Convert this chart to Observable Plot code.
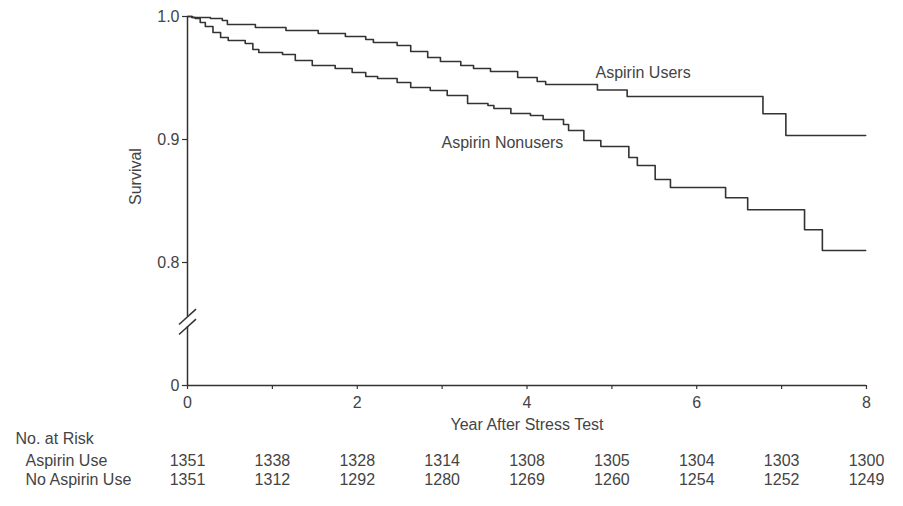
<!DOCTYPE html>
<html>
<head>
<meta charset="utf-8">
<script src="https://cdn.jsdelivr.net/npm/d3@7"></script>
<script src="https://cdn.jsdelivr.net/npm/@observablehq/plot@0.6"></script>
<style>
  html, body { margin: 0; padding: 0; background: #fff; }
  #chart svg { display: block; }
</style>
</head>
<body>
<div id="chart"></div>
<script>
// ---- data ----
const usersTime = [0, 0.06, 0.27, 0.41, 0.47, 0.80, 1.16, 1.54, 1.86, 2.10, 2.19, 2.47, 2.63, 2.83, 2.98, 3.22, 3.37, 3.57, 3.89, 4.12, 4.22, 4.83, 5.18, 6.78, 7.05, 7.99];
const usersSurv = [1.0, 0.9992, 0.9984, 0.9967, 0.9935, 0.9911, 0.9886, 0.9862, 0.9837, 0.9813, 0.9789, 0.9764, 0.9715, 0.9667, 0.9634, 0.9602, 0.9577, 0.9553, 0.9504, 0.9472, 0.9447, 0.9402, 0.9350, 0.9209, 0.9033, 0.9033];

const nonTime = [0, 0.05, 0.09, 0.15, 0.21, 0.30, 0.39, 0.48, 0.68, 0.77, 0.84, 1.12, 1.27, 1.47, 1.74, 1.94, 2.10, 2.24, 2.47, 2.63, 2.86, 3.06, 3.30, 3.54, 3.61, 3.81, 4.04, 4.19, 4.43, 4.49, 4.67, 4.87, 5.20, 5.30, 5.51, 5.69, 6.34, 6.60, 7.27, 7.48, 7.99];
const nonSurv = [1.0, 0.9992, 0.9984, 0.9951, 0.9919, 0.9870, 0.9829, 0.9805, 0.9780, 0.9732, 0.9707, 0.9691, 0.9642, 0.9602, 0.9577, 0.9545, 0.9512, 0.9496, 0.9463, 0.9423, 0.9398, 0.9358, 0.9293, 0.9276, 0.9252, 0.9211, 0.9195, 0.9163, 0.9122, 0.9073, 0.8992, 0.8943, 0.8854, 0.8789, 0.8675, 0.8610, 0.8526, 0.8429, 0.8266, 0.8098, 0.8098];

const riskYears = [0, 1, 2, 3, 4, 5, 6, 7, 8];
const riskAspirin = [1351, 1338, 1328, 1314, 1308, 1305, 1304, 1303, 1300];
const riskNoAspirin = [1351, 1312, 1292, 1280, 1269, 1260, 1254, 1252, 1249];

const xTicks = [0, 1, 2, 3, 4, 5, 6, 7, 8];
const yTicksUpper = [0.8, 0.9, 1.0];
const yTickZero = [0];
const yBreak = [0.382, 0.447];   // survival values where the axis break slashes sit
const seriesLabels = ["Aspirin Users", "Aspirin Nonusers"];
const rowLabels = ["No. at Risk", "Aspirin Use", "No Aspirin Use"];

// ---- build tables ----
const users = usersTime.map((t, i) => ({t, s: usersSurv[i]}));
const nonusers = nonTime.map((t, i) => ({t, s: nonSurv[i]}));
const risk = riskYears.map((y, i) => ({y, a: riskAspirin[i], n: riskNoAspirin[i]}));
const slashes = yBreak.map(v => ({x1: -0.1, x2: 0.1, y1: v - 0.05, y2: v + 0.05}));

// broken axis: 0..0.8 compressed into the space of 0.7..0.8
const breakTransform = v => v >= 0.8 ? v : 0.7 + v * 0.125;

const ink = "#333";
const textInk = "#444";

const chart = Plot.plot({
  width: 903,
  height: 506,
  marginLeft: 187,
  marginRight: 37,
  marginTop: 16,
  marginBottom: 121,
  style: {fontFamily: "'Liberation Sans', Arial, sans-serif", fontSize: "16px", color: textInk, background: "#fff"},
  x: {domain: [0, 8]},
  y: {transform: breakTransform, domain: [0.7, 1.0]},
  marks: [
    // axis lines (y axis broken)
    Plot.ruleY([0], {x1: 0, x2: 8, stroke: ink, strokeWidth: 1.5}),
    Plot.ruleX([0], {y1: 0, y2: yBreak[0], stroke: ink, strokeWidth: 1.5}),
    Plot.ruleX([0], {y1: yBreak[1], y2: 1.0, stroke: ink, strokeWidth: 1.5}),
    Plot.link(slashes, {x1: "x1", x2: "x2", y1: "y1", y2: "y2", stroke: ink, strokeWidth: 1.5}),
    Plot.axisX({ticks: xTicks, tickFormat: d => d % 2 === 0 ? String(d) : "", tickSize: 4, tickPadding: 7, label: null, stroke: ink, strokeWidth: 1.2}),
    Plot.axisY({ticks: yTicksUpper, tickFormat: d => d.toFixed(1), tickSize: 5, tickPadding: 3, label: null, stroke: ink, strokeWidth: 1.2}),
    // the 0 tick below the break
    Plot.ruleY(yTickZero, {x1: -0.06, x2: 0, stroke: ink, strokeWidth: 1.2}),
    Plot.text(yTickZero, {x: 0, y: d => d, text: d => String(d), dx: -8, textAnchor: "end", fill: textInk}),
    Plot.text(["Year After Stress Test"], {frameAnchor: "bottom", dy: 44, fill: textInk}),
    Plot.text(["Survival"], {frameAnchor: "left", dx: -52, dy: 4, rotate: -90, fill: textInk}),
    // survival curves
    Plot.line(users, {x: "t", y: "s", curve: "step-after", stroke: ink, strokeWidth: 1.6}),
    Plot.line(nonusers, {x: "t", y: "s", curve: "step-after", stroke: ink, strokeWidth: 1.6}),
    Plot.text([seriesLabels[0]], {x: 4.807, y: 0.9545, textAnchor: "start", fill: textInk}),
    Plot.text([seriesLabels[1]], {x: 2.993, y: 0.8976, textAnchor: "start", fill: textInk}),
    // number at risk table
    Plot.text([rowLabels[0]], {x: 0, y: 0, dx: -172, dy: 53, textAnchor: "start", fill: textInk}),
    Plot.text([rowLabels[1]], {x: 0, y: 0, dx: -162, dy: 75, textAnchor: "start", fill: textInk}),
    Plot.text([rowLabels[2]], {x: 0, y: 0, dx: -162, dy: 94, textAnchor: "start", fill: textInk}),
    Plot.text(risk, {x: "y", y: () => 0, text: d => String(d.a), dy: 75, fill: textInk}),
    Plot.text(risk, {x: "y", y: () => 0, text: d => String(d.n), dy: 94, fill: textInk})
  ]
});
document.getElementById("chart").appendChild(chart);
</script>
</body>
</html>
